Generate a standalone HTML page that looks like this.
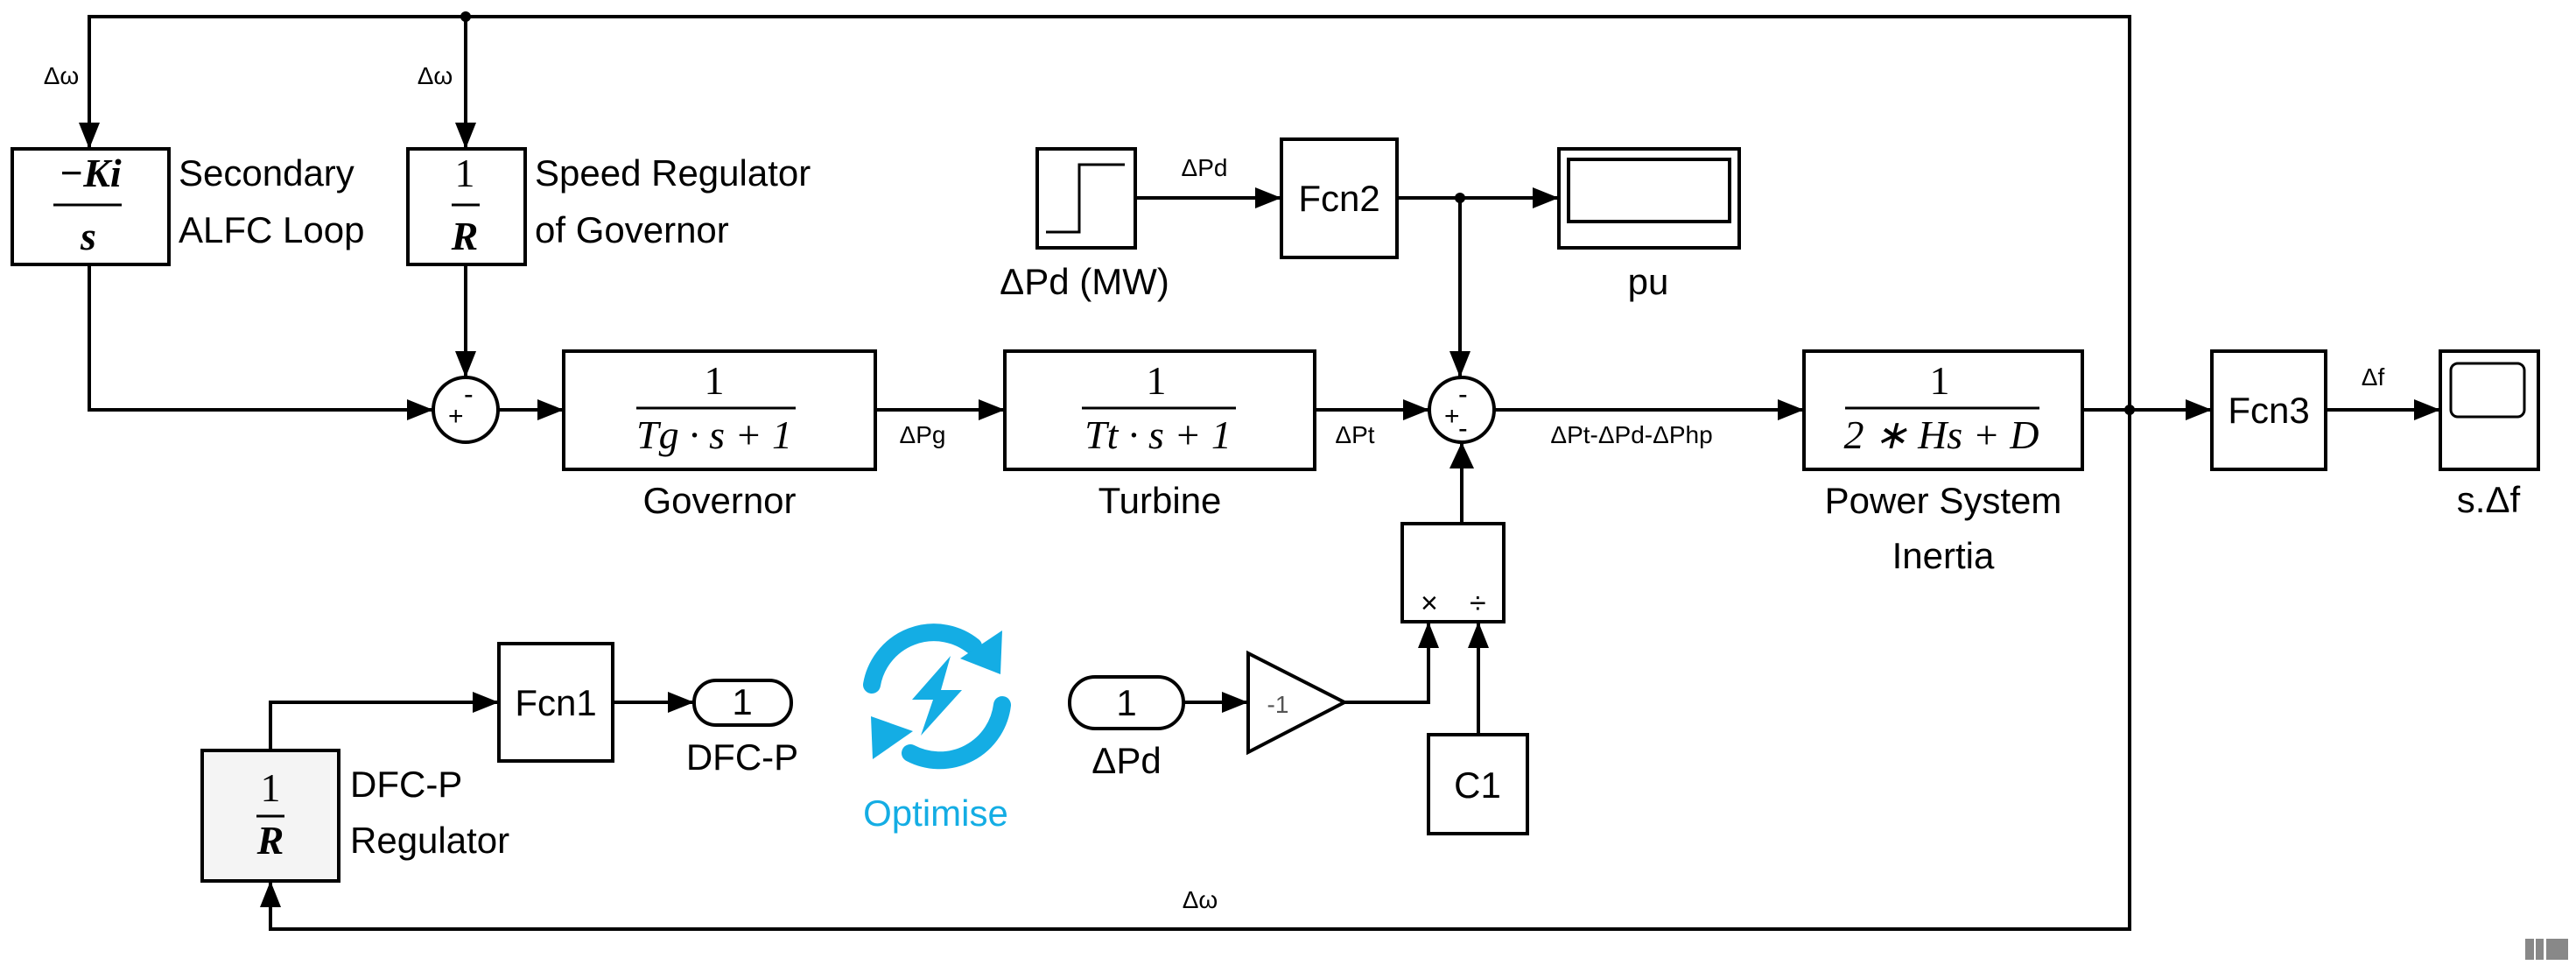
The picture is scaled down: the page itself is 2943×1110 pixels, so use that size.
<!DOCTYPE html>
<html><head><meta charset="utf-8"><style>
html,body{margin:0;padding:0;background:#fff}
svg{display:block}
text{font-family:"Liberation Sans",sans-serif;fill:#000}
.m text{font-family:"Liberation Serif",serif;font-style:italic}
.l{font-size:42px}
.s{font-size:28px}
</style></head><body>
<svg width="2943" height="1110" viewBox="0 0 2943 1110" xmlns="http://www.w3.org/2000/svg">
<g stroke="#000" stroke-width="4" fill="none">
<polyline points="102,170 102,19 2433,19 2433,1061 309,1061 309,1006"/>
<line x1="532" y1="19" x2="532" y2="170"/>
<line x1="532" y1="302" x2="532" y2="431"/>
<polyline points="102,302 102,468 495,468"/>
<line x1="569" y1="468" x2="644" y2="468"/>
<line x1="1000" y1="468" x2="1148" y2="468"/>
<line x1="1502" y1="468" x2="1633" y2="468"/>
<line x1="1707" y1="468" x2="2061" y2="468"/>
<line x1="2379" y1="468" x2="2527" y2="468"/>
<line x1="2657" y1="468" x2="2788" y2="468"/>
<line x1="1297" y1="226" x2="1464" y2="226"/>
<line x1="1596" y1="226" x2="1781" y2="226"/>
<line x1="1668" y1="226" x2="1668" y2="431"/>
<line x1="1670" y1="598" x2="1670" y2="505"/>
<polyline points="1536,802 1632,802 1632,710"/>
<line x1="1689" y1="839" x2="1689" y2="710"/>
<line x1="1352" y1="802" x2="1426" y2="802"/>
<polyline points="309,857 309,802 570,802"/>
<line x1="700" y1="802" x2="793" y2="802"/>
</g>
<g fill="#000">
<path d="M90,140 L114,140 L102,170z"/>
<path d="M520,140 L544,140 L532,170z"/>
<path d="M520,401 L544,401 L532,431z"/>
<path d="M465,456 L495,468 L465,480z"/>
<path d="M614,456 L644,468 L614,480z"/>
<path d="M1118,456 L1148,468 L1118,480z"/>
<path d="M1603,456 L1633,468 L1603,480z"/>
<path d="M2031,456 L2061,468 L2031,480z"/>
<path d="M2497,456 L2527,468 L2497,480z"/>
<path d="M2758,456 L2788,468 L2758,480z"/>
<path d="M1434,214 L1464,226 L1434,238z"/>
<path d="M1751,214 L1781,226 L1751,238z"/>
<path d="M1656,401 L1680,401 L1668,431z"/>
<path d="M1656,535 L1684,535 L1670,505z"/>
<path d="M1620,740 L1644,740 L1632,710z"/>
<path d="M1677,740 L1701,740 L1689,710z"/>
<path d="M1396,790 L1426,802 L1396,814z"/>
<path d="M540,790 L570,802 L540,814z"/>
<path d="M763,790 L793,802 L763,814z"/>
<path d="M297,1036 L321,1036 L309,1006z"/>
<circle cx="532" cy="19" r="6"/>
<circle cx="1668" cy="226" r="6"/>
<circle cx="2433" cy="468" r="6"/>
</g>
<g stroke="#000" stroke-width="4" fill="#fff">
<rect x="14" y="170" width="179" height="132"/>
<rect x="466" y="170" width="134" height="132"/>
<rect x="644" y="401" width="356" height="135"/>
<rect x="1148" y="401" width="354" height="135"/>
<rect x="2061" y="401" width="318" height="135"/>
<rect x="2527" y="401" width="130" height="135"/>
<rect x="2788" y="401" width="112" height="135"/>
<rect x="1185" y="170" width="112" height="113"/>
<rect x="1464" y="159" width="132" height="135"/>
<rect x="1781" y="170" width="206" height="113"/>
<rect x="1792" y="182" width="184" height="71"/>
<rect x="231" y="857" width="156" height="149" fill="#f4f4f4"/>
<rect x="570" y="735" width="130" height="134"/>
<rect x="793" y="777" width="111" height="51" rx="25"/>
<rect x="1222" y="773" width="130" height="59" rx="29"/>
<rect x="1602" y="598" width="116" height="112"/>
<rect x="1632" y="839" width="113" height="113"/>
<path d="M1426,746 L1536,802 L1426,859z"/>
<circle cx="532" cy="468" r="37"/>
<circle cx="1670" cy="468" r="37"/>
</g>
<rect x="2800" y="415" width="84" height="61" rx="8" stroke="#000" stroke-width="3" fill="#fff"/>
<polyline points="1195,265 1233,265 1233,188 1285,188" stroke="#000" stroke-width="3" fill="none"/>
<text x="512" y="485" font-size="30">+</text><text x="530" y="461" font-size="32">-</text>
<text x="1650" y="485" font-size="30">+</text><text x="1666" y="461" font-size="32">-</text><text x="1666" y="500" font-size="32">-</text>
<text x="1623" y="700" font-size="34">×</text><text x="1679" y="700" font-size="34">÷</text>
<g class="m" text-anchor="middle">
<text x="103" y="213" font-size="46" font-weight="bold">−Ki</text>
<text x="101" y="285" font-size="46" font-weight="bold">s</text>
<text x="531" y="213" font-size="46" style="font-style:normal">1</text>
<text x="531" y="285" font-size="46" font-weight="bold">R</text>
<text x="816" y="450" font-size="46" style="font-style:normal">1</text>
<text x="816" y="512" font-size="46">Tg · s + 1</text>
<text x="1321" y="450" font-size="46" style="font-style:normal">1</text>
<text x="1323" y="512" font-size="46">Tt · s + 1</text>
<text x="2216" y="450" font-size="46" style="font-style:normal">1</text>
<text x="2218" y="512" font-size="46">2 ∗ Hs + D</text>
<text x="309" y="915" font-size="46" style="font-style:normal">1</text>
<text x="309" y="975" font-size="46" font-weight="bold">R</text>
</g>
<g stroke="#000" stroke-width="3">
<line x1="61" y1="234" x2="139" y2="234"/>
<line x1="516" y1="234" x2="548" y2="234"/>
<line x1="727" y1="466" x2="909" y2="466"/>
<line x1="1236" y1="466" x2="1412" y2="466"/>
<line x1="2108" y1="466" x2="2330" y2="466"/>
<line x1="293" y1="932" x2="325" y2="932"/>
</g>
<g class="l">
<text x="204" y="212">Secondary</text>
<text x="204" y="277">ALFC Loop</text>
<text x="611" y="212">Speed Regulator</text>
<text x="611" y="277">of Governor</text>
<text x="400" y="910">DFC-P</text>
<text x="400" y="974">Regulator</text>
</g>
<g class="l" text-anchor="middle">
<text x="822" y="586">Governor</text>
<text x="1325" y="586">Turbine</text>
<text x="2220" y="586">Power System</text>
<text x="2220" y="649">Inertia</text>
<text x="1239" y="336">ΔPd (MW)</text>
<text x="1883" y="336">pu</text>
<text x="1530" y="241">Fcn2</text>
<text x="2592" y="483">Fcn3</text>
<text x="635" y="817">Fcn1</text>
<text x="848" y="816">1</text>
<text x="1287" y="817">1</text>
<text x="848" y="879">DFC-P</text>
<text x="1287" y="883">ΔPd</text>
<text x="1688" y="911">C1</text>
<text x="2843" y="585">s.Δf</text>
<text x="1069" y="943" style="fill:#14ade4">Optimise</text>
</g>
<g class="s" text-anchor="middle">
<text x="70" y="96">Δω</text>
<text x="497" y="96">Δω</text>
<text x="1376" y="201">ΔPd</text>
<text x="1054" y="506">ΔPg</text>
<text x="1548" y="506">ΔPt</text>
<text x="1864" y="506">ΔPt-ΔPd-ΔPhp</text>
<text x="2711" y="440">Δf</text>
<text x="1371" y="1037">Δω</text>
<text x="1460" y="814" style="fill:#555">-1</text>
</g>
<g fill="#14ade4">
<path d="M996,782 A72,72 0 0 1 1112,738" stroke="#14ade4" stroke-width="20" fill="none" stroke-linecap="round"/>
<path d="M1145,720 L1143,770 L1097,752z"/>
<path d="M1145,805 A72,72 0 0 1 1040,860" stroke="#14ade4" stroke-width="20" fill="none" stroke-linecap="round"/>
<path d="M995,818 L997,867 L1043,835z"/>
<path d="M1086,749 L1042,799 L1066,799 L1052,840 L1099,788 L1075,788z"/>
</g>
<g fill="#888">
<rect x="2885" y="1072" width="10" height="24"/>
<rect x="2897" y="1072" width="9" height="24"/>
<rect x="2909" y="1072" width="25" height="24"/>
</g>
</svg>
</body></html>
